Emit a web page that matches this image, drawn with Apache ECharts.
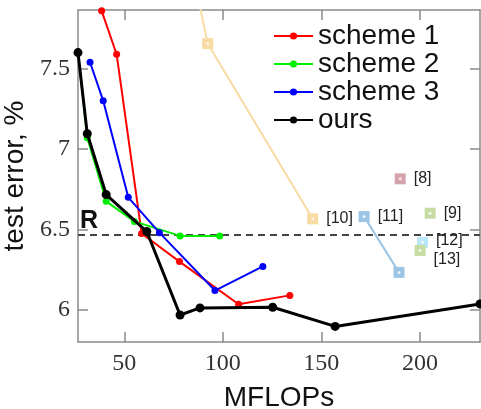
<!DOCTYPE html>
<html>
<head>
<meta charset="utf-8">
<script src="https://cdn.jsdelivr.net/npm/echarts@6/dist/echarts.min.js"></script>
<style>
  html, body { margin: 0; padding: 0; background: #fff; }
  #chart { width: 481px; height: 409px; }
</style>
</head>
<body>
<div id="chart"></div>
<script>
// data
var xTicks = [50, 100, 150, 200]
var yTicks = [6, 6.5, 7, 7.5]
var refLine = 6.47

var scheme1 = [[38.5, 7.86], [46.1, 7.59], [58.8, 6.475], [78, 6.30], [108, 6.035], [134, 6.09]]
var scheme2 = [[26.5, 7.60], [31.2, 7.07], [40.8, 6.675], [55.1, 6.55], [78.3, 6.46], [98.4, 6.46]]
var scheme3 = [[32.6, 7.54], [39.3, 7.30], [52, 6.70], [67.8, 6.48], [96, 6.12], [120.3, 6.27]]
var ours = [[26.5, 7.60], [31.2, 7.095], [40.8, 6.717], [61.4, 6.487], [78.3, 5.968], [88.4, 6.012],
            [125.3, 6.016], [157, 5.897], [230.5, 6.037]]

// other methods, one small array each
var ref10 = [[85.6, 8.05], [92.3, 7.656], [145.6, 6.566]]
var ref11 = [[171.7, 6.58], [189.4, 6.233]]
var ref8 = [[190, 6.815]]
var ref9 = [[205.2, 6.601]]
var ref12 = [[201.3, 6.42]]
var ref13 = [[200.1, 6.369]]

var chart = echarts.init(document.getElementById('chart'))

var tickFont = { fontFamily: 'Liberation Serif', fontSize: 24, color: '#333' }
var axisGray = '#8a8a8a'

function schemeSeries(name, data, color, width, size) {
    return {
        name: name,
        type: 'line',
        data: data,
        symbol: 'circle',
        symbolSize: size,
        lineStyle: { color: color, width: width },
        itemStyle: { color: color },
        emphasis: { disabled: true },
        z: 3
    }
}

function refSeries(data, color, labelIdx, text, offset) {
    return {
        type: 'line',
        data: data.map(function (p, i) {
            var d = { value: p }
            if (i === labelIdx) {
                d.label = { show: true, formatter: text, offset: offset || [0, 0] }
            }
            return d
        }),
        symbol: 'rect',
        symbolSize: 11,
        showAllSymbol: true,
        lineStyle: { color: color, width: 2 },
        itemStyle: { color: color },
        label: {
            show: false, position: 'right', distance: 8,
            fontFamily: 'Liberation Sans', fontSize: 16, color: '#222'
        },
        emphasis: { disabled: true },
        z: 2
    }
}

var dots = [].concat(ref10, ref11, ref8, ref9, ref12, ref13)

var option = {
    animation: false,
    grid: { left: 78, right: 1, top: 10, bottom: 67, outerBoundsMode: 'none' },
    legend: {
        data: ['scheme 1', 'scheme 2', 'scheme 3', 'ours'],
        orient: 'vertical',
        left: 273,
        top: 22,
        padding: 0,
        itemWidth: 39,
        itemHeight: 9,
        itemGap: 0,
        textStyle: { fontFamily: 'Liberation Sans', fontSize: 28, color: '#111', lineHeight: 26 }
    },
    xAxis: [{
        type: 'value', min: 26.5, max: 230.5,
        name: 'MFLOPs', nameLocation: 'middle', nameGap: 42,
        nameTextStyle: { fontFamily: 'Liberation Sans', fontSize: 28, color: '#111' },
        axisLine: { lineStyle: { color: axisGray, width: 1.5 } },
        axisTick: { inside: true, length: 10, customValues: xTicks, lineStyle: { color: axisGray, width: 1.5 } },
        axisLabel: Object.assign({ customValues: xTicks, margin: 10 }, tickFont),
        splitLine: { show: false }
    }, {
        type: 'value', min: 26.5, max: 230.5, position: 'top',
        axisLine: { lineStyle: { color: axisGray, width: 1.5 } },
        axisTick: { inside: true, length: 10, customValues: xTicks, lineStyle: { color: axisGray, width: 1.5 } },
        axisLabel: { show: false },
        splitLine: { show: false }
    }],
    yAxis: [{
        type: 'value', min: 5.8, max: 7.865,
        name: 'test error, %', nameLocation: 'middle', nameGap: 38,
        nameTextStyle: { fontFamily: 'Liberation Sans', fontSize: 28, color: '#111' },
        axisLine: { show: true, lineStyle: { color: axisGray, width: 1.5 } },
        axisTick: { show: true, inside: true, length: 10, customValues: yTicks, lineStyle: { color: axisGray, width: 1.5 } },
        axisLabel: Object.assign({ customValues: yTicks, margin: 8 }, tickFont),
        splitLine: { show: false }
    }, {
        type: 'value', min: 5.8, max: 7.865, position: 'right',
        axisLine: { show: true, lineStyle: { color: axisGray, width: 1.5 } },
        axisTick: { show: true, inside: true, length: 10, customValues: yTicks, lineStyle: { color: axisGray, width: 1.5 } },
        axisLabel: { show: false },
        splitLine: { show: false }
    }],
    series: [
        refSeries(ref10, '#f7dba2', 2, '[10]'),
        refSeries(ref11, '#9cc5e5', 0, '[11]'),
        refSeries(ref8, '#d6a2ac', 0, '[8]'),
        refSeries(ref9, '#c7dca4', 0, '[9]'),
        refSeries(ref12, '#b9e6f9', 0, '[12]', [0, -2]),
        refSeries(ref13, '#c7dca4', 0, '[13]', [0, 9]),
        {
            type: 'scatter',
            data: dots,
            symbol: 'circle',
            symbolSize: 3,
            itemStyle: { color: '#fff' },
            silent: true,
            z: 2.5
        },
        schemeSeries('scheme 1', scheme1, '#ff0000', 2, 7),
        schemeSeries('scheme 2', scheme2, '#00ee00', 2, 7),
        schemeSeries('scheme 3', scheme3, '#0000ff', 2, 7),
        Object.assign(schemeSeries('ours', ours, '#000000', 3, 9), {
            z: 4,
            markLine: {
                silent: true,
                symbol: 'none',
                data: [{ yAxis: refLine }],
                lineStyle: { color: '#444', width: 2, type: [7, 5] },
                label: {
                    show: true, position: 'insideStartTop', formatter: 'R', distance: [2, 1],
                    fontFamily: 'Liberation Sans', fontWeight: 'bold', fontSize: 25, color: '#111'
                },
                z: 1
            }
        })
    ]
}

chart.setOption(option)
</script>
</body>
</html>
